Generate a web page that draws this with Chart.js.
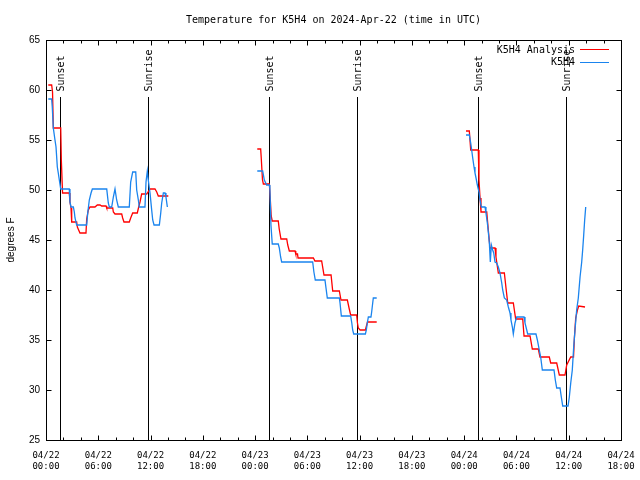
<!DOCTYPE html>
<html><head><meta charset="utf-8">
<script src="https://cdn.jsdelivr.net/npm/chart.js@4/dist/chart.umd.min.js"></script>
<style>html,body{margin:0;padding:0;background:#fff}#wrap{width:640px;height:480px}</style>
</head><body><div id="wrap"><canvas id="c" width="640" height="480"></canvas></div>
<script>
// ---- text ----
const chartTitle = 'Temperature for K5H4 on 2024-Apr-22 (time in UTC)';
const yAxisTitle = 'degrees F';
const seriesNames = ['K5H4 Analysis', 'K5H4'];
// ---- x axis: hours since 04/22 00:00 UTC ----
const xTickHours = [0, 6, 12, 18, 24, 30, 36, 42, 48, 54, 60, 66];
const xTickLabels = [['04/22','00:00'],['04/22','06:00'],['04/22','12:00'],['04/22','18:00'],
  ['04/23','00:00'],['04/23','06:00'],['04/23','12:00'],['04/23','18:00'],
  ['04/24','00:00'],['04/24','06:00'],['04/24','12:00'],['04/24','18:00']];
const yTicks = [25, 30, 35, 40, 45, 50, 55, 60, 65];
// ---- sun events (hours) ----
const eventHours = [1.64, 11.73, 25.63, 35.73, 49.62, 59.65];
const eventNames = ['Sunset', 'Sunrise', 'Sunset', 'Sunrise', 'Sunset', 'Sunrise'];
// ---- K5H4 Analysis (red) [hour, degF] ----
const analysisDay1 = [[0.26,60.5],[0.65,60.5],[0.75,59.8],[0.84,56.2],[1.69,56.2],[1.76,53.0],[1.9,49.7],[2.67,49.7],
  [2.75,48.8],[2.87,48.2],[2.95,46.8],[3.52,46.8],[3.6,46.3],[3.9,45.7],[4.59,45.7],[4.67,47.1],[4.86,48.0],[5.05,48.3],
  [5.62,48.3],[5.89,48.5],[6.2,48.5],[6.39,48.4],[6.89,48.4],[6.97,48.2],[7.66,48.2],[7.73,47.8],[7.92,47.6],[8.69,47.6],
  [8.8,47.2],[8.95,46.8],[9.56,46.8],[9.72,47.2],[9.95,47.7],[10.48,47.7],[10.64,48.3],[10.79,48.8],[10.98,49.6],
  [11.56,49.6],[11.94,50.1],[12.51,50.1],[12.71,49.8],[12.89,49.4],[14.04,49.4]];
const analysisDay2 = [[24.25,54.1],[24.64,54.1],[24.7,53.3],[24.85,51.0],[24.95,50.6],[25.64,50.6],[25.75,49.0],[25.85,47.4],
  [25.97,46.9],[26.66,46.9],[26.77,46.1],[26.97,45.1],[27.63,45.1],[27.75,44.5],[27.93,43.9],[28.59,43.9],[28.67,43.6],
  [28.87,43.6],[28.93,43.2],[30.69,43.2],[30.87,42.9],[31.64,42.9],[31.91,41.5],[32.72,41.5],[32.91,39.9],[33.67,39.9],
  [33.86,39.0],[34.59,39.0],[34.81,38.1],[34.97,37.5],[35.66,37.5],[35.75,36.7],[35.85,36.2],[36.05,36.0],[36.66,36.0],
  [36.9,36.8],[37.96,36.8]];
const analysisDay3 = [[48.21,55.9],[48.59,55.9],[48.75,54.0],[49.62,54.0],[49.7,51.0],[49.82,49.2],[49.93,47.8],[50.59,47.8],
  [50.77,46.0],[50.96,44.2],[51.54,44.2],[51.65,43.3],[51.92,41.7],[52.61,41.7],[52.8,40.2],[53.0,38.7],[53.64,38.7],
  [53.91,37.1],[54.72,37.1],[54.87,35.4],[55.56,35.4],[55.82,34.1],[56.51,34.1],[56.7,33.3],[57.77,33.3],[57.93,32.7],
  [58.62,32.7],[58.92,31.5],[59.57,31.5],[59.77,32.5],[60.23,33.3],[60.55,33.3],[60.65,35.2],[60.8,37.2],[61.0,38.0],
  [61.15,38.4],[61.87,38.3]];
// ---- K5H4 observed (blue) [hour, degF] ----
const observedDay1 = [[0.26,59.1],[0.65,59.1],[0.72,58.3],[0.84,56.2],[1.03,55.0],[1.15,54.3],[1.30,52.3],[1.41,51.7],
  [1.53,51.0],[1.69,50.1],[2.67,50.1],[2.75,48.8],[2.87,48.3],[3.14,48.3],[3.25,47.8],[3.33,47.2],[3.52,46.5],[4.67,46.5],
  [4.79,47.7],[4.97,49.0],[5.17,49.7],[5.32,50.1],[6.97,50.1],[7.15,48.7],[7.27,48.3],[7.54,48.3],[7.73,49.3],[7.92,50.1],
  [8.03,50.1],[8.11,49.0],[8.30,48.3],[9.56,48.3],[9.72,50.8],[9.95,51.8],[10.3,51.8],[10.41,50.0],[10.6,49.0],[10.71,48.3],
  [11.36,48.3],[11.48,50.8],[11.63,51.9],[11.74,51.0],[11.94,49.7],[12.13,48.0],[12.25,47.0],[12.4,46.5],[13.01,46.5],
  [13.17,47.7],[13.28,48.7],[13.47,49.7],[13.66,49.7],[13.77,49.3],[13.93,48.3]];
const observedDay2 = [[24.25,51.9],[24.87,51.9],[25.06,51.0],[25.33,50.5],[25.64,50.5],[25.7,50.1],[25.82,46.5],[25.97,44.6],
  [26.66,44.6],[26.78,44.2],[26.93,43.3],[27.05,42.8],[30.61,42.8],[30.75,41.8],[30.91,41.0],[32.02,41.0],[32.14,40.2],
  [32.29,39.2],[33.67,39.2],[33.75,38.7],[33.9,37.4],[34.97,37.4],[35.1,36.7],[35.2,36.0],[35.32,35.6],[36.66,35.6],
  [36.77,36.0],[36.88,36.7],[37.0,37.3],[37.3,37.3],[37.38,37.8],[37.5,38.7],[37.57,39.2],[37.96,39.2]];
const observedDay3 = [[48.21,55.5],[48.59,55.5],[48.75,54.7],[48.86,54.0],[48.98,53.2],[49.13,52.3],[49.24,51.7],[49.36,51.2],
  [49.51,50.5],[49.7,49.8],[49.82,49.0],[49.97,48.3],[50.39,48.3],[50.5,47.7],[50.66,46.7],[50.77,45.8],[50.89,44.7],
  [51.0,42.8],[51.12,44.5],[51.27,44.0],[51.39,43.7],[51.54,42.8],[51.73,42.7],[51.92,42.3],[52.11,41.7],[52.31,40.7],
  [52.42,40.0],[52.61,39.2],[52.88,39.0],[53.07,38.3],[53.26,37.7],[53.37,37.0],[53.53,36.3],[53.64,35.6],[53.83,36.7],
  [54.03,37.3],[54.87,37.3],[54.98,36.7],[55.18,36.0],[55.29,35.6],[56.24,35.6],[56.4,35.0],[56.62,34.0],[56.78,33.3],
  [56.97,32.0],[58.31,32.0],[58.46,31.0],[58.62,30.2],[59.0,30.2],[59.15,29.3],[59.31,28.4],[59.92,28.4],[60.07,29.3],
  [60.23,30.7],[60.41,32.0],[60.57,34.3],[60.72,36.0],[60.91,38.0],[61.1,39.2],[61.3,41.3],[61.49,42.8],[61.6,44.0],
  [61.72,45.5],[61.83,47.0],[61.95,48.3]];

const RED = '#ff0000', BLUE = '#1a84ee';
const MONO = '"DejaVu Sans Mono", "Liberation Mono", monospace';
const SANS = '"Liberation Sans", Arial, sans-serif';

function joinSegments(segs) {
  const out = [];
  segs.forEach((seg, i) => {
    if (i > 0) out.push({x: (segs[i-1][segs[i-1].length-1][0] + seg[0][0]) / 2, y: null});
    seg.forEach(p => out.push({x: p[0], y: p[1]}));
  });
  return out;
}

const framePlugin = {
  id: 'frame',
  beforeDatasetsDraw(chart) {
    const {ctx, chartArea: a, scales: {x, y}} = chart;
    ctx.save();
    ctx.strokeStyle = '#000'; ctx.lineWidth = 1;
    const lineTop = y.getPixelForValue(59.3);
    eventHours.forEach((h, i) => {
      const px = Math.round(x.getPixelForValue(h)) + 0.5;
      ctx.beginPath(); ctx.moveTo(px, a.bottom); ctx.lineTo(px, lineTop); ctx.stroke();
      ctx.save();
      ctx.translate(px + 0.5, lineTop - 5.5);
      ctx.rotate(-Math.PI / 2);
      ctx.fillStyle = '#000'; ctx.font = '10px ' + MONO;
      ctx.textAlign = 'left'; ctx.textBaseline = 'middle';
      ctx.fillText(eventNames[i], 0, 0);
      ctx.restore();
    });
    ctx.restore();
  },
  afterDraw(chart) {
    const {ctx, chartArea: a, scales: {x, y}} = chart;
    ctx.save();
    ctx.strokeStyle = '#000'; ctx.lineWidth = 1;
    const L = Math.round(a.left) + 0.5, R = Math.round(a.right) + 0.5;
    const T = Math.round(a.top) + 0.5, B = Math.round(a.bottom) + 0.5;
    ctx.beginPath();
    for (let h = x.min; h <= x.max; h += 2) {
      const px = Math.round(x.getPixelForValue(h)) + 0.5;
      const len = xTickHours.includes(h) ? 5 : 3;
      ctx.moveTo(px, B); ctx.lineTo(px, B - len);
      ctx.moveTo(px, T); ctx.lineTo(px, T + len);
    }
    yTicks.forEach(v => {
      const py = Math.round(y.getPixelForValue(v)) + 0.5;
      ctx.moveTo(L, py); ctx.lineTo(L + 5, py);
      ctx.moveTo(R, py); ctx.lineTo(R - 5, py);
    });
    ctx.stroke();
    ctx.strokeRect(L, T, R - L, B - T);
    // legend
    const colors = [RED, BLUE];
    ctx.font = '10px ' + MONO; ctx.textAlign = 'right'; ctx.textBaseline = 'middle';
    seriesNames.forEach((name, i) => {
      const ty = a.top + 10 + i * 12.7;
      ctx.fillStyle = '#000';
      ctx.fillText(name, a.right - 46, ty);
      ctx.strokeStyle = colors[i]; ctx.lineWidth = 1;
      ctx.beginPath();
      ctx.moveTo(a.right - 41, Math.round(ty) - 0.5); ctx.lineTo(a.right - 12, Math.round(ty) - 0.5);
      ctx.stroke();
    });
    ctx.restore();
  }
};

new Chart(document.getElementById('c'), {
  type: 'line',
  data: {
    datasets: [
      { label: seriesNames[1], data: joinSegments([observedDay1, observedDay2, observedDay3]),
        borderColor: BLUE, borderWidth: 1.3, pointRadius: 0, fill: false, spanGaps: false, tension: 0, order: 0 },
      { label: seriesNames[0], data: joinSegments([analysisDay1, analysisDay2, analysisDay3]),
        borderColor: RED, borderWidth: 1.3, pointRadius: 0, fill: false, spanGaps: false, tension: 0, order: 1 }
    ]
  },
  options: {
    responsive: false, animation: false, devicePixelRatio: 1,
    layout: { padding: { left: 0, right: 19, top: 0, bottom: 0 }, autoPadding: false },
    plugins: {
      legend: { display: false },
      tooltip: { enabled: false },
      title: { display: true, text: chartTitle, fullSize: false, color: '#000',
        font: { family: MONO, size: 10, weight: 'normal', lineHeight: 1.2 }, padding: { top: 14, bottom: 14 } }
    },
    scales: {
      x: {
        type: 'linear', min: 0, max: 66,
        afterFit: s => { s.height = 40; s.paddingLeft = 0; s.paddingRight = 0; },
        grid: { display: false, drawTicks: false }, border: { display: false },
        afterBuildTicks: s => { s.ticks = xTickHours.map(v => ({ value: v })); },
        ticks: {
          autoSkip: false, maxRotation: 0, minRotation: 0, padding: 10, color: '#000',
          font: { family: MONO, size: 9, lineHeight: 1.25 },
          callback: v => { const i = xTickHours.indexOf(v); return i >= 0 ? xTickLabels[i] : ''; }
        }
      },
      y: {
        type: 'linear', min: 25, max: 65,
        afterFit: s => { s.width = 46; s.paddingTop = 0; s.paddingBottom = 0; },
        grid: { display: false, drawTicks: false }, border: { display: false },
        afterBuildTicks: s => { s.ticks = yTicks.map(v => ({ value: v })); },
        ticks: { padding: 6, color: '#000', font: { family: SANS, size: 10 } },
        title: { display: true, text: yAxisTitle, color: '#000', font: { family: SANS, size: 10 }, padding: { top: 5, bottom: 0 } }
      }
    }
  },
  plugins: [framePlugin]
});
</script>
</body></html>
